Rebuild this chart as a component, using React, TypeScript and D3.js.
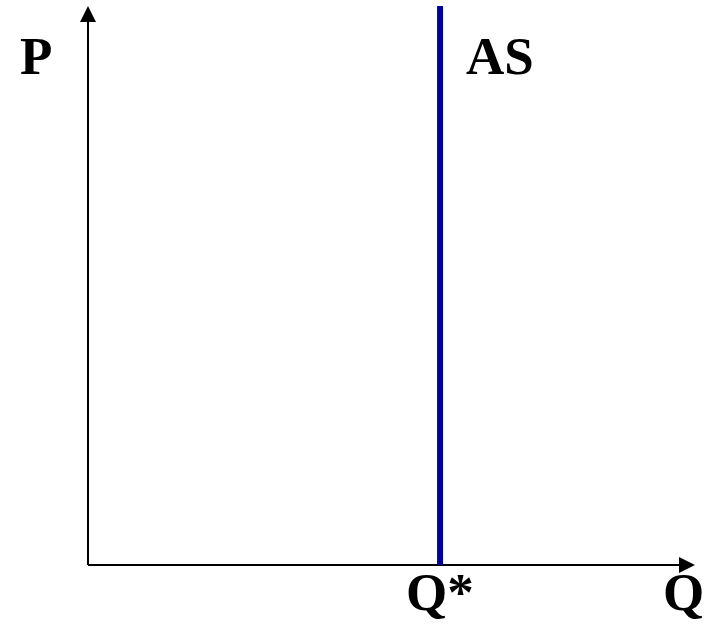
import React from 'react';
import * as d3 from 'd3';

// axis labels and curve labels
const axisLabels = ['P', 'Q'];
const curveLabels = ['AS'];
const tickLabels = ['Q*'];
// long-run aggregate supply sits at the full-employment output Q*
const qStarValues = [58];
const priceRange = [0, 100];
const quantityRange = [0, 100];

const W = 708;
const H = 624;
const font = '"Liberation Serif", "Times New Roman", serif';

export default function App() {
  const x = d3.scaleLinear().domain(quantityRange).range([88, 695]);
  const y = d3.scaleLinear().domain(priceRange).range([565, 6]);

  const x0 = x(0);
  const y0 = y(0);
  const qs = x(qStarValues[0]);

  const arrow = (pts: [number, number][]) => d3.line()(pts) + 'Z';

  return (
    <svg width={W} height={H} style={{ position: 'absolute', left: 0, top: 0 }}>
      <rect width={W} height={H} fill="#fff" />
      {/* y axis */}
      <line x1={x0} x2={x0} y1={y0} y2={y(100) + 14} stroke="#000" strokeWidth={2} />
      <path d={arrow([[x0 - 8, y(100) + 16], [x0, y(100)], [x0 + 8, y(100) + 16]])} fill="#000" />
      {/* x axis */}
      <line x1={x0} x2={x(100) - 14} y1={y0} y2={y0} stroke="#000" strokeWidth={2} />
      <path d={arrow([[x(100) - 16, y0 - 8], [x(100), y0], [x(100) - 16, y0 + 8]])} fill="#000" />
      {/* AS curve */}
      <line x1={qs} x2={qs} y1={y0} y2={y(100)} stroke="#00009C" strokeWidth={6} />

      <text x={20} y={74} fontFamily={font} fontWeight="bold" fontSize={53}>{axisLabels[0]}</text>
      <text x={663} y={610} fontFamily={font} fontWeight="bold" fontSize={53}>{axisLabels[1]}</text>
      <text x={466} y={74} fontFamily={font} fontWeight="bold" fontSize={53}>{curveLabels[0]}</text>
      <text x={406} y={610} fontFamily={font} fontWeight="bold" fontSize={53}>{tickLabels[0]}</text>
    </svg>
  );
}
